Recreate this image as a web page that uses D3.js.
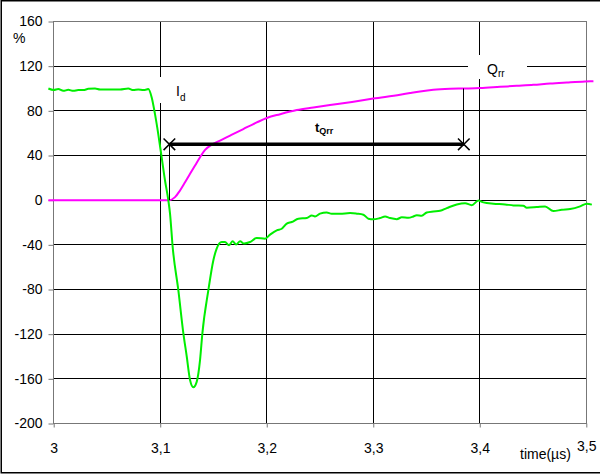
<!DOCTYPE html>
<html>
<head>
<meta charset="utf-8">
<script src="https://cdn.jsdelivr.net/npm/d3@7"></script>
<style>
  body { margin: 0; background: #fff; }
  text { font-family: "Liberation Sans", Arial, sans-serif; }
</style>
</head>
<body>
<div id="chart"></div>
<script>
(function() {
	// tick values
	var xTicks = [3, 3.1, 3.2, 3.3, 3.4, 3.5];
	var yTicks = [-200, -160, -120, -80, -40, 0, 40, 80, 120, 160];

	// diode current Id (%)
	var idTime = [2.995, 3.0, 3.0043, 3.009, 3.0137, 3.0184, 3.0231, 3.0278, 3.0325, 3.0388,
		3.0435, 3.0498, 3.056, 3.0623, 3.07, 3.0747, 3.0794, 3.0841, 3.0873, 3.0888,
		3.092, 3.0951, 3.0982, 3.1014, 3.1045, 3.1076, 3.1092, 3.1117, 3.117, 3.1217,
		3.1249, 3.128, 3.1311, 3.1343, 3.1374, 3.1396, 3.1452, 3.1499, 3.153, 3.1577,
		3.1608, 3.1646, 3.168, 3.1712, 3.175, 3.1787, 3.1843, 3.1906, 3.1984, 3.2031,
		3.2094, 3.2141, 3.2188, 3.2235, 3.2297, 3.2376, 3.2423, 3.2453, 3.25, 3.2563,
		3.261, 3.2688, 3.2782, 3.2845, 3.2907, 3.2954, 3.3001, 3.3064, 3.3111, 3.3158,
		3.3221, 3.3268, 3.333, 3.3376, 3.3408, 3.3455, 3.3502, 3.3564, 3.3627, 3.369,
		3.3784, 3.3862, 3.3925, 3.3987, 3.4034, 3.4128, 3.4238, 3.4315, 3.4409, 3.4441,
		3.4535, 3.4613, 3.4691, 3.477, 3.4848, 3.4942, 3.5005, 3.5052];
	var idValue = [100, 98.6, 99.5, 97.9, 98.8, 97.9, 98.6, 98.6, 99.7, 100,
		99.1, 99.1, 99.1, 99.1, 100, 98.6, 99.1, 98.6, 99.1, 99.5,
		92, 77, 59, 38, 17.6, 0, -12, -42, -80.6, -119,
		-140, -161, -167.5, -162.5, -143, -119, -80.6, -53.8, -43.4, -37.5,
		-37.5, -40.4, -36.9, -39.6, -36.9, -38.9, -37.5, -33.9, -34.5, -30.9,
		-27, -25.6, -21, -19.6, -16.6, -16, -13.7, -14.6, -12.1, -11,
		-12.1, -12.1, -11.6, -12.1, -13, -16.6, -17.2, -16, -14.6, -16,
		-17, -15.4, -15.8, -14.6, -13.4, -14, -11, -10.1, -9.5, -7.1,
		-3.8, -2.7, -4.5, -0.3, -2, -3.2, -3.8, -4.7, -5, -6.8,
		-6.2, -5.6, -9.8, -8.6, -8, -5.6, -3.2, -4];

	// recovered charge Qrr (%)
	var qrrTime = [2.995, 3.05, 3.1085, 3.1139, 3.1186, 3.1233, 3.128, 3.1327, 3.1374, 3.1421,
		3.1484, 3.1562, 3.1656, 3.178, 3.1906, 3.2, 3.2125, 3.2282, 3.2438, 3.2594,
		3.28, 3.30, 3.3252, 3.3346, 3.3439, 3.3564, 3.3721, 3.3846, 3.4003, 3.419,
		3.4347, 3.4503, 3.466, 3.4817, 3.4989, 3.5067];
	var qrrValue = [0, 0, 0, 2.7, 8.7, 16, 23.6, 31, 38.4, 45,
		49.7, 53.3, 57.8, 63.7, 69.6, 73.6, 77, 80.7, 83, 85.2,
		88, 91, 94.4, 95.9, 97.3, 98.8, 99.7, 100, 100.4, 101.5,
		102.4, 103.3, 104.5, 105.4, 106.3, 106.6];

	// tQrr span
	var tqrrStart = 3.1086, tqrrEnd = 3.385, tqrrLevel = 50, qrrAtEnd = 100;

	var width = 600, height = 475;
	var plot = { left: 53.7, right: 586.3, top: 21.5, bottom: 423.5 };

	var svg = d3.select("#chart")
		.append("svg")
		.attr("width", width)
		.attr("height", height);

	svg.append("rect").attr("width", width).attr("height", height).attr("fill", "#fff");

	var xScale = d3.scaleLinear().domain([3, 3.5]).range([plot.left, plot.right]);
	var yScale = d3.scaleLinear().domain([-200, 160]).range([plot.bottom, plot.top]);

	function crisp(v) { return Math.round(v - 0.5) + 0.5; }

	// outer border (top, left, bottom)
	svg.append("path")
		.attr("d", "M600,0.75 H1.25 V472.75 H600")
		.attr("fill", "none")
		.attr("stroke", "#000")
		.attr("stroke-width", 1.5);

	// gridlines
	svg.selectAll("line.hgrid")
		.data(yTicks.slice(1, -1))
		.enter()
		.append("line")
		.attr("class", "hgrid")
		.attr("x1", plot.left).attr("x2", plot.right)
		.attr("y1", function(d) { return crisp(yScale(d)); })
		.attr("y2", function(d) { return crisp(yScale(d)); })
		.attr("stroke", "#000");

	svg.selectAll("line.vgrid")
		.data(xTicks.slice(1, -1))
		.enter()
		.append("line")
		.attr("class", "vgrid")
		.attr("y1", plot.top).attr("y2", plot.bottom)
		.attr("x1", function(d) { return crisp(xScale(d)); })
		.attr("x2", function(d) { return crisp(xScale(d)); })
		.attr("stroke", "#000");

	// plot frame
	svg.append("rect")
		.attr("x", crisp(plot.left)).attr("y", crisp(plot.top))
		.attr("width", Math.round(plot.right - plot.left))
		.attr("height", Math.round(plot.bottom - plot.top))
		.attr("fill", "none")
		.attr("stroke", "#777");

	// axes
	var yAxis = d3.axisLeft(yScale)
		.tickValues(yTicks)
		.tickSize(5)
		.tickPadding(6)
		.tickFormat(function(d) { return String(d); });

	svg.append("g")
		.attr("transform", "translate(" + crisp(plot.left) + ",0)")
		.call(yAxis)
		.call(function(g) {
			g.select(".domain").remove();
			g.selectAll(".tick line").attr("stroke", "#777");
			g.selectAll(".tick text").attr("font-size", 14).attr("fill", "#000")
				.attr("font-family", "Liberation Sans, Arial, sans-serif");
		});

	var xAxis = d3.axisBottom(xScale)
		.tickValues(xTicks)
		.tickSize(4)
		.tickPadding(16)
		.tickFormat(function(d) { return String(d).replace(".", ","); });

	svg.append("g")
		.attr("transform", "translate(0," + crisp(plot.bottom) + ")")
		.call(xAxis)
		.call(function(g) {
			g.select(".domain").remove();
			g.selectAll(".tick line").attr("stroke", "#777");
			g.selectAll(".tick text").attr("font-size", 14).attr("fill", "#000")
				.attr("font-family", "Liberation Sans, Arial, sans-serif")
				.attr("dy", function(d) { return d === 3.5 ? "0.55em" : "0.71em"; });
		});

	svg.append("text")
		.attr("x", 520).attr("y", 459)
		.attr("font-size", 14)
		.text("time(µs)");

	svg.append("text")
		.attr("x", 13).attr("y", 43)
		.attr("font-size", 14)
		.text("%");

	// white boxes behind labels
	svg.append("rect").attr("x", 156).attr("y", 77).attr("width", 38).attr("height", 26).attr("fill", "#fff");
	svg.append("rect").attr("x", 468).attr("y", 55).attr("width", 59).attr("height", 24).attr("fill", "#fff");

	// curves
	var line = d3.line()
		.x(function(d) { return xScale(d[0]); })
		.y(function(d) { return yScale(d[1]); })
		.curve(d3.curveMonotoneX);

	svg.append("path")
		.datum(d3.zip(qrrTime, qrrValue))
		.attr("d", line)
		.attr("fill", "none")
		.attr("stroke", "#ff00ff")
		.attr("stroke-width", 2);

	svg.append("path")
		.datum(d3.zip(idTime, idValue))
		.attr("d", line)
		.attr("fill", "none")
		.attr("stroke", "#00ee00")
		.attr("stroke-width", 2);

	// tQrr markers
	svg.append("line")
		.attr("x1", crisp(xScale(tqrrStart))).attr("x2", crisp(xScale(tqrrStart)))
		.attr("y1", yScale(tqrrLevel)).attr("y2", yScale(0))
		.attr("stroke", "#000");
	svg.append("line")
		.attr("x1", crisp(xScale(tqrrEnd))).attr("x2", crisp(xScale(tqrrEnd)))
		.attr("y1", yScale(tqrrLevel)).attr("y2", yScale(qrrAtEnd))
		.attr("stroke", "#000");
	svg.append("line")
		.attr("x1", xScale(tqrrStart)).attr("x2", xScale(tqrrEnd))
		.attr("y1", yScale(tqrrLevel)).attr("y2", yScale(tqrrLevel))
		.attr("stroke", "#000")
		.attr("stroke-width", 3.5);

	svg.selectAll("path.xmark")
		.data([tqrrStart, tqrrEnd])
		.enter()
		.append("path")
		.attr("class", "xmark")
		.attr("d", d3.symbol(d3.symbolX, 90))
		.attr("transform", function(d) { return "translate(" + xScale(d) + "," + yScale(tqrrLevel) + ")"; })
		.attr("fill", "none")
		.attr("stroke", "#000")
		.attr("stroke-width", 1.5);

	// labels
	var id = svg.append("text").attr("x", 176).attr("y", 96).attr("font-size", 14);
	id.append("tspan").text("I");
	id.append("tspan").attr("dy", 5).attr("font-size", 10).text("d");

	var q = svg.append("text").attr("x", 487).attr("y", 74).attr("font-size", 14);
	q.append("tspan").text("Q");
	q.append("tspan").attr("dy", 3).attr("font-size", 10).text("rr");

	var t = svg.append("text").attr("x", 315).attr("y", 132).attr("font-size", 13).attr("font-weight", "bold");
	t.append("tspan").text("t");
	t.append("tspan").attr("dy", 2).attr("font-size", 9).text("Qrr");
})();
</script>
</body>
</html>
